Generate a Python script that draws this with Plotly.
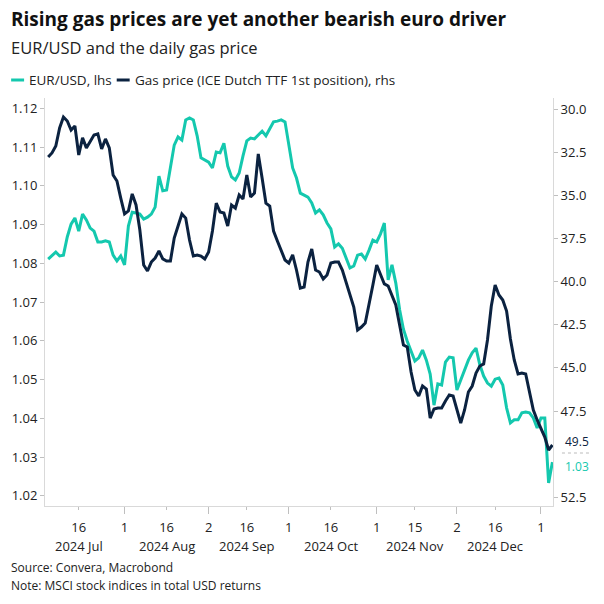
import pandas as pd
import plotly.graph_objects as go

# ---------------- data ----------------
dates = pd.bdate_range("2024-07-04", periods=133).strftime("%Y-%m-%d").tolist()

eurusd = [
    1.0811, 1.0821, 1.0829, 1.0819, 1.0821, 1.0868, 1.0901, 1.0917, 1.0883, 1.0927,
    1.0912, 1.0891, 1.0883, 1.0855, 1.0855, 1.0858, 1.0855, 1.0821, 1.0806, 1.0819,
    1.0796, 1.0896, 1.0932, 1.0930, 1.0927, 1.0914, 1.0919, 1.0927, 1.0945, 1.1025,
    1.0987, 1.0989, 1.1046, 1.1105, 1.1126, 1.1118, 1.1170, 1.1175, 1.1170, 1.1129,
    1.1072, 1.1067, 1.1061, 1.1046, 1.1087, 1.1085, 1.1110, 1.1051, 1.1023, 1.1015,
    1.1033, 1.1077, 1.1116, 1.1123, 1.1121, 1.1131, 1.1141, 1.1129, 1.1147, 1.1165,
    1.1167, 1.1170, 1.1165, 1.1103, 1.1046, 1.1020, 1.0981, 1.0976, 1.0971, 1.0956,
    1.0930, 1.0938, 1.0925, 1.0904, 1.0889, 1.0842, 1.0850, 1.0839, 1.0811, 1.0788,
    1.0793, 1.0821, 1.0824, 1.0811, 1.0834, 1.0860, 1.0855, 1.0876, 1.0904, 1.0757,
    1.0796, 1.0749, 1.0680, 1.0630, 1.0599, 1.0574, 1.0548, 1.0556, 1.0576, 1.0550,
    1.0514, 1.0434, 1.0489, 1.0486, 1.0545, 1.0558, 1.0556, 1.0473, 1.0499, 1.0522,
    1.0550, 1.0569, 1.0581, 1.0538, 1.0509, 1.0491, 1.0483, 1.0501, 1.0504, 1.0486,
    1.0427, 1.0388, 1.0396, 1.0396, 1.0414, 1.0416, 1.0414, 1.0401, 1.0375, 1.0401,
    1.0401, 1.0233, 1.0287,
]

gas = [
    32.77, 32.53, 32.13, 31.08, 30.45, 30.68, 31.20, 30.97, 32.65, 31.66,
    32.24, 31.90, 31.49, 31.43, 32.30, 31.72, 32.24, 33.81, 34.16, 35.15,
    36.07, 35.90, 34.91, 35.55, 37.00, 39.03, 39.38, 38.86, 38.63, 38.22,
    38.68, 38.80, 38.80, 37.47, 36.77, 36.07, 36.31, 37.58, 38.51, 38.45,
    38.51, 38.68, 38.28, 37.06, 35.44, 35.96, 36.02, 36.77, 35.55, 35.73,
    34.97, 35.20, 33.81, 35.09, 34.86, 32.59, 33.98, 35.44, 35.61, 37.06,
    37.64, 38.22, 38.74, 38.92, 38.45, 39.32, 40.37, 40.31, 38.86, 38.10,
    39.32, 39.44, 39.84, 39.61, 38.92, 38.86, 38.86, 39.32, 40.02, 40.77,
    41.47, 42.80, 42.63, 42.40, 41.35, 40.19, 39.03, 39.55, 40.13, 40.25,
    40.77, 41.35, 42.51, 43.67, 43.79, 45.24, 46.28, 46.63, 46.05, 46.22,
    47.91, 47.38, 47.33, 47.33, 46.92, 46.57, 46.63, 47.50, 48.20, 47.44,
    46.40, 46.05, 45.30, 44.89, 44.77, 43.38, 41.41, 40.19, 40.77, 41.06,
    41.70, 43.32, 44.54, 45.35, 45.30, 45.35, 46.34, 47.44, 48.02, 48.54,
    49.01, 49.76, 49.47,
]

tick_dates = ["2024-07-16", "2024-08-01", "2024-08-16", "2024-09-02", "2024-09-16",
              "2024-10-01", "2024-10-16", "2024-11-01", "2024-11-15", "2024-12-02",
              "2024-12-16", "2025-01-01"]
tick_labels = ["16", "1", "16", "2", "16", "1", "16", "1", "15", "2", "16", "1"]
month_start_dates = ["2024-08-01", "2024-09-02", "2024-10-01", "2024-11-01",
                     "2024-12-02", "2025-01-01"]
month_label_dates = ["2024-07-16", "2024-08-16", "2024-09-16", "2024-10-16",
                     "2024-11-15", "2024-12-16"]
month_labels = ["2024 Jul", "2024 Aug", "2024 Sep", "2024 Oct", "2024 Nov", "2024 Dec"]

left_ticks = [1.02, 1.03, 1.04, 1.05, 1.06, 1.07, 1.08, 1.09, 1.10, 1.11, 1.12]
right_ticks = [30.0, 32.5, 35.0, 37.5, 40.0, 42.5, 45.0, 47.5, 52.5]

TEAL = "#14C8AE"
NAVY = "#0B2240"
FONT = "Open Sans"

# ---------------- layout helpers ----------------
W = H = 604
L, R, T, B = 43, 51, 98, 98
PW, PH = W - L - R, H - T - B


def px(x):
    return (x - L) / PW


def py(y):
    return (H - B - y) / PH


fig = go.Figure()
fig.add_trace(go.Scatter(x=dates, y=eurusd, mode="lines", name="EUR/USD, lhs",
                         line=dict(color=TEAL, width=3), yaxis="y", xaxis="x"))
fig.add_trace(go.Scatter(x=dates, y=gas, mode="lines",
                         name="Gas price (ICE Dutch TTF 1st position), rhs",
                         line=dict(color=NAVY, width=3), yaxis="y2", xaxis="x"))
# helper trace so the overlay axis with the longer month-start ticks is drawn
fig.add_trace(go.Scatter(x=[0], y=[None], xaxis="x2", yaxis="y", showlegend=False,
                         hoverinfo="skip", mode="lines"))

xr = [-0.83, 132.15]
axis_line = "#D9D9D9"
tick_col = "#BFBFBF"
txt_col = "#222222"

fig.update_layout(
    width=W, height=H,
    margin=dict(l=L, r=R, t=T, b=B),
    paper_bgcolor="white", plot_bgcolor="white",
    showlegend=False,
    font=dict(family=FONT, size=13, color=txt_col),
    xaxis=dict(type="category", range=xr, tickmode="array", tickvals=tick_dates,
               ticktext=tick_labels, ticks="outside", ticklen=3, tickcolor=tick_col,
               showline=True, linecolor=axis_line, linewidth=1, showgrid=False,
               zeroline=False, tickfont=dict(size=13, color=txt_col),
               ticklabelstandoff=6),
    xaxis2=dict(overlaying="x", anchor="y", side="bottom", type="linear", range=xr,
                tickmode="array",
                tickvals=[dates.index(d) for d in month_start_dates],
                ticks="outside", ticklen=7, tickcolor=tick_col, showticklabels=False,
                showline=False, showgrid=False, zeroline=False),
    yaxis=dict(range=[1.01737, 1.12266], tickmode="array", tickvals=left_ticks,
               tickformat=".2f", ticks="outside", ticklen=4, tickcolor=tick_col,
               showline=True, linecolor=axis_line, linewidth=1, showgrid=False,
               zeroline=False, tickfont=dict(size=13, color=txt_col)),
    yaxis2=dict(overlaying="y", side="right", anchor="x",
                range=[53.01, 29.345], tickmode="array", tickvals=right_ticks,
                tickformat=".1f", ticks="outside", ticklen=4, tickcolor=tick_col,
                showline=True, linecolor=axis_line, linewidth=1, showgrid=False,
                zeroline=False, tickfont=dict(size=13, color=txt_col)),
)

ann = []
# title / subtitle
ann.append(dict(text="<b>Rising gas prices are yet another bearish euro driver</b>",
                xref="paper", yref="paper", x=px(7), y=py(19), xanchor="left",
                yanchor="middle", showarrow=False,
                font=dict(family=FONT, size=19, color="#111111")))
ann.append(dict(text="EUR/USD and the daily gas price",
                xref="paper", yref="paper", x=px(7), y=py(47), xanchor="left",
                yanchor="middle", showarrow=False,
                font=dict(family=FONT, size=16.5, color="#222222")))
# manual legend
ann.append(dict(text="EUR/USD, lhs", xref="paper", yref="paper", x=px(25), y=py(80),
                xanchor="left", yanchor="middle", showarrow=False,
                font=dict(family=FONT, size=13.5, color=txt_col)))
ann.append(dict(text="Gas price (ICE Dutch TTF 1st position), rhs", xref="paper",
                yref="paper", x=px(131), y=py(80), xanchor="left", yanchor="middle",
                showarrow=False, font=dict(family=FONT, size=13.5, color=txt_col)))
# month labels
for d, lab in zip(month_label_dates, month_labels):
    ann.append(dict(text=lab, xref="x", yref="paper", x=d, y=py(546), xanchor="center",
                    yanchor="middle", showarrow=False,
                    font=dict(family=FONT, size=13, color=txt_col)))
# end-value labels
ann.append(dict(text=f"{gas[-1]:.1f}", xref="paper", yref="paper", x=px(591), y=py(441),
                xanchor="right", yanchor="middle", showarrow=False,
                font=dict(family=FONT, size=12, color=NAVY)))
ann.append(dict(text=f"{eurusd[-1]:.2f}", xref="paper", yref="paper", x=px(591),
                y=py(466), xanchor="right", yanchor="middle", showarrow=False,
                font=dict(family=FONT, size=12, color=TEAL)))
# footnotes
ann.append(dict(text="Source: Convera, Macrobond", xref="paper", yref="paper", x=px(7),
                y=py(567), xanchor="left", yanchor="middle", showarrow=False,
                font=dict(family=FONT, size=12, color=txt_col)))
ann.append(dict(text="Note: MSCI stock indices in total USD returns", xref="paper",
                yref="paper", x=px(7), y=py(585), xanchor="left", yanchor="middle",
                showarrow=False, font=dict(family=FONT, size=12, color=txt_col)))
fig.update_layout(annotations=ann)

shapes = [
    dict(type="line", xref="paper", yref="paper", x0=px(9), x1=px(22), y0=py(80),
         y1=py(80), line=dict(color=TEAL, width=3)),
    dict(type="line", xref="paper", yref="paper", x0=px(115), x1=px(128), y0=py(80),
         y1=py(80), line=dict(color=NAVY, width=3)),
    dict(type="line", xref="paper", yref="paper", x0=px(562), x1=px(591), y0=py(453),
         y1=py(453), line=dict(color="#BBBBBB", width=1, dash="dot")),
]
fig.update_layout(shapes=shapes)

fig.write_html("out.html", config={"displayModeBar": False},
               post_script="document.body.style.margin='0';document.body.style.padding='0';")
